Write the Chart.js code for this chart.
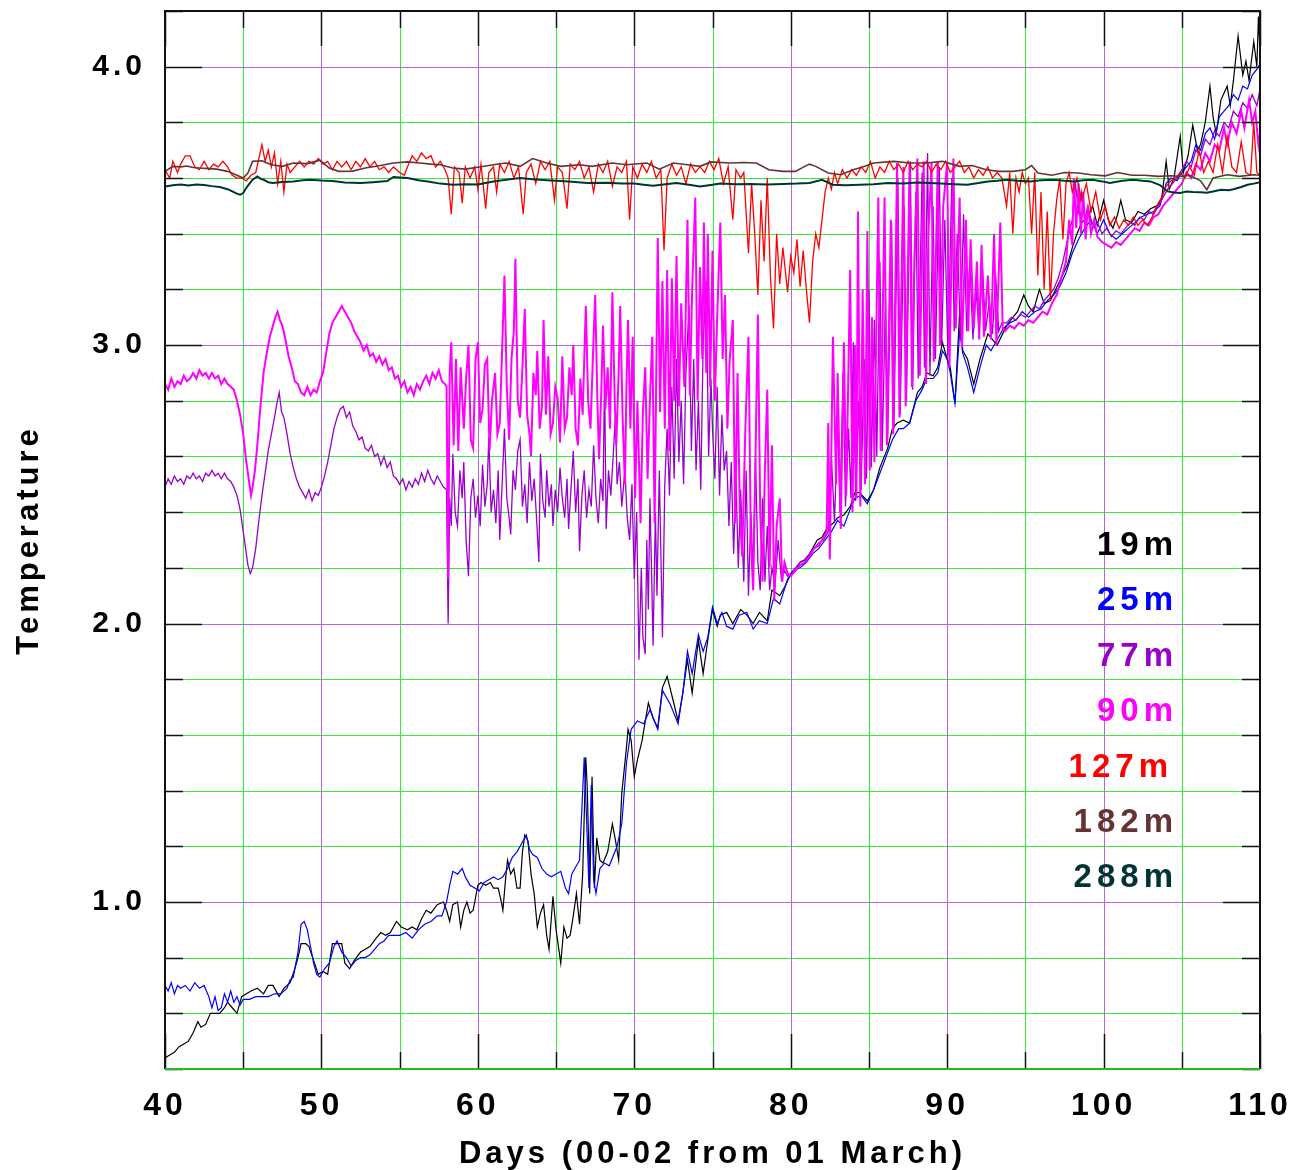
<!DOCTYPE html>
<html lang="en">
<head>
<meta charset="UTF-8">
<title>Temperature by depth</title>
<script src="https://cdn.jsdelivr.net/npm/chart.js"></script>
<style>
  html, body { margin: 0; padding: 0; background: #ffffff; }
  #wrap { width: 1292px; height: 1170px; }
</style>
</head>
<body>
<div id="wrap"><canvas id="tempChart" width="1292" height="1170"></canvas></div>
<script>
// sensor depths, in legend order
const depths = ['19m', '25m', '77m', '90m', '127m', '182m', '288m'];

// [day, temperature] for each sensor
const t19m = [
  [40.0,0.44],[40.3,0.45],[40.6,0.46],[40.9,0.48],[41.2,0.49],[41.5,0.50],[41.8,0.53],[42.1,0.57],[42.3,0.55],[42.6,0.56],
  [42.9,0.60],[43.2,0.60],[43.5,0.60],[43.8,0.62],[44.0,0.64],[44.3,0.62],[44.6,0.60],[44.9,0.66],[45.2,0.67],[45.5,0.68],
  [45.9,0.69],[46.3,0.67],[46.6,0.70],[46.9,0.70],[47.3,0.66],[47.6,0.69],[48.0,0.71],[48.3,0.76],[48.5,0.80],[48.7,0.85],
  [49.0,0.85],[49.2,0.84],[49.5,0.79],[49.8,0.74],[50.1,0.75],[50.4,0.74],[50.7,0.85],[51.0,0.85],[51.3,0.85],[51.5,0.78],
  [51.8,0.76],[52.1,0.79],[52.5,0.82],[52.8,0.83],[53.1,0.84],[53.5,0.87],[53.8,0.89],[54.1,0.88],[54.4,0.89],[54.8,0.93],
  [55.1,0.91],[55.5,0.90],[55.8,0.91],[56.1,0.90],[56.4,0.94],[56.7,0.97],[57.0,0.96],[57.4,0.99],[57.8,1.00],[58.0,0.97],
  [58.2,0.93],[58.4,0.99],[58.7,1.00],[58.9,0.91],[59.1,0.97],[59.3,1.00],[59.5,0.96],[59.7,0.97],[60.0,1.06],[60.2,1.07],
  [60.5,1.06],[60.8,1.07],[61.0,1.05],[61.3,1.05],[61.5,1.00],[61.6,0.97],[61.8,1.10],[61.9,1.15],[62.1,1.10],[62.3,1.12],
  [62.5,1.05],[62.7,1.05],[62.85,1.18],[63.0,1.24],[63.2,1.22],[63.4,1.10],[63.6,1.03],[63.8,0.91],[64.0,0.96],[64.2,0.99],
  [64.4,0.88],[64.55,0.83],[64.8,1.02],[65.0,0.90],[65.3,0.78],[65.5,0.91],[65.7,0.87],[65.9,0.88],[66.1,0.95],[66.3,1.03],
  [66.5,0.92],[66.7,1.10],[66.9,1.52],[67.0,1.40],[67.15,1.03],[67.3,1.45],[67.45,1.05],[67.6,1.23],[67.8,1.15],[68.0,1.14],
  [68.3,1.18],[68.6,1.28],[68.8,1.22],[69.0,1.15],[69.2,1.39],[69.5,1.555],[69.6,1.62],[69.8,1.58],[70.0,1.45],[70.2,1.51],
  [70.5,1.58],[70.9,1.715],[71.2,1.66],[71.5,1.625],[71.8,1.77],[72.1,1.81],[72.5,1.72],[72.8,1.65],[73.1,1.75],[73.4,1.87],
  [73.7,1.75],[74.1,1.94],[74.4,1.82],[74.7,1.94],[75.0,2.05],[75.3,1.99],[75.5,2.03],[75.9,2.04],[76.3,2.00],[76.8,2.05],
  [77.2,2.03],[77.6,2.00],[78.0,2.04],[78.5,2.01],[78.8,2.12],[79.3,2.10],[79.7,2.14],[80.0,2.18],[80.3,2.19],[80.6,2.22],
  [81.0,2.23],[81.4,2.27],[81.7,2.30],[82.0,2.31],[82.3,2.34],[82.7,2.36],[83.0,2.38],[83.4,2.39],[83.8,2.42],[84.1,2.47],
  [84.4,2.47],[84.9,2.44],[85.3,2.48],[85.7,2.56],[86.2,2.63],[86.5,2.70],[86.8,2.72],[87.2,2.73],[87.6,2.72],[88.1,2.83],
  [88.4,2.85],[88.7,2.90],[89.1,2.89],[89.4,2.92],[89.7,3.01],[90.0,2.95],[90.2,2.92],[90.5,2.79],[90.8,3.12],[91.0,2.98],
  [91.3,2.95],[91.7,2.86],[92.1,2.95],[92.6,3.04],[93.2,3.00],[93.8,3.07],[94.2,3.10],[94.5,3.12],[94.9,3.18],[95.2,3.14],
  [95.5,3.12],[95.9,3.20],[96.2,3.15],[96.6,3.16],[97.2,3.23],[97.7,3.29],[98.0,3.35],[98.3,3.40],[98.6,3.44],[99.0,3.46],
  [99.3,3.50],[99.6,3.43],[100.0,3.52],[100.3,3.45],[100.6,3.42],[100.9,3.47],[101.1,3.52],[101.4,3.45],[101.8,3.44],[102.2,3.48],
  [102.6,3.47],[103.0,3.49],[103.4,3.50],[103.7,3.52],[104.0,3.66],[104.2,3.56],[104.5,3.60],[104.9,3.75],[105.1,3.62],[105.4,3.68],
  [105.7,3.79],[106.0,3.70],[106.2,3.72],[106.5,3.80],[106.8,3.93],[107.0,3.82],[107.2,3.76],[107.5,3.88],[107.9,3.93],[108.1,3.86],
  [108.3,3.95],[108.6,4.11],[108.9,3.97],[109.1,4.02],[109.3,3.95],[109.6,4.09],[109.8,4.00],[109.9,4.18],[110.0,4.05]
];

const t25m = [
  [40.0,0.70],[40.2,0.68],[40.4,0.71],[40.6,0.67],[40.8,0.70],[41.0,0.69],[41.3,0.70],[41.6,0.68],[41.9,0.71],[42.2,0.69],
  [42.5,0.70],[42.8,0.66],[43.0,0.62],[43.2,0.66],[43.4,0.61],[43.6,0.62],[43.8,0.67],[44.0,0.64],[44.2,0.68],[44.4,0.64],
  [44.6,0.66],[44.8,0.63],[45.0,0.65],[45.4,0.65],[45.8,0.66],[46.2,0.66],[46.6,0.66],[47.0,0.67],[47.4,0.67],[47.8,0.69],
  [48.0,0.72],[48.2,0.73],[48.5,0.82],[48.7,0.92],[48.9,0.93],[49.1,0.90],[49.3,0.84],[49.5,0.78],[49.7,0.74],[49.9,0.73],
  [50.2,0.76],[50.5,0.78],[50.8,0.84],[51.0,0.86],[51.3,0.82],[51.6,0.80],[51.9,0.77],[52.2,0.79],[52.5,0.80],[52.8,0.80],
  [53.1,0.81],[53.4,0.83],[53.7,0.85],[54.0,0.86],[54.3,0.88],[54.6,0.88],[55.0,0.88],[55.4,0.89],[55.8,0.87],[56.2,0.90],
  [56.6,0.92],[57.0,0.93],[57.4,0.95],[57.7,0.95],[58.0,1.00],[58.2,1.06],[58.4,1.11],[58.7,1.10],[59.0,1.12],[59.2,1.09],
  [59.5,1.06],[59.8,1.05],[60.1,1.04],[60.4,1.07],[60.7,1.08],[61.0,1.09],[61.3,1.08],[61.6,1.09],[61.9,1.12],[62.2,1.16],
  [62.5,1.18],[62.8,1.21],[63.1,1.24],[63.3,1.19],[63.5,1.17],[63.8,1.16],[64.1,1.12],[64.4,1.10],[64.7,1.09],[65.0,1.10],
  [65.3,1.11],[65.6,1.05],[65.8,1.03],[66.0,1.10],[66.2,1.12],[66.5,1.15],[66.8,1.52],[66.95,1.30],[67.1,1.05],[67.25,1.42],
  [67.4,1.08],[67.55,1.03],[67.8,1.12],[68.1,1.14],[68.4,1.13],[68.9,1.20],[69.2,1.28],[69.5,1.50],[69.8,1.62],[70.2,1.65],
  [70.6,1.64],[71.0,1.69],[71.5,1.62],[71.8,1.76],[72.3,1.71],[72.8,1.64],[73.1,1.75],[73.4,1.90],[73.7,1.82],[74.1,1.96],
  [74.4,1.90],[74.7,1.95],[75.0,2.06],[75.3,2.00],[75.6,2.04],[75.9,1.99],[76.3,1.98],[76.7,2.03],[77.2,2.04],[77.6,1.98],
  [78.0,2.01],[78.5,2.00],[78.9,2.09],[79.3,2.07],[79.8,2.16],[80.2,2.19],[80.6,2.20],[81.0,2.22],[81.4,2.25],[81.8,2.27],
  [82.2,2.30],[82.6,2.33],[83.0,2.37],[83.4,2.35],[83.8,2.41],[84.1,2.45],[84.5,2.46],[84.9,2.43],[85.3,2.48],[85.7,2.54],
  [86.1,2.60],[86.5,2.66],[86.9,2.70],[87.2,2.70],[87.6,2.72],[88.0,2.80],[88.4,2.84],[88.7,2.88],[89.1,2.88],[89.4,2.90],
  [89.7,2.98],[90.0,2.95],[90.2,2.90],[90.5,2.79],[90.8,3.05],[91.0,2.97],[91.3,2.92],[91.7,2.83],[92.1,2.92],[92.5,3.00],
  [92.8,2.98],[93.2,3.02],[93.6,3.06],[94.0,3.08],[94.4,3.09],[94.8,3.12],[95.2,3.10],[95.6,3.12],[96.0,3.13],[96.4,3.16],
  [96.8,3.18],[97.2,3.21],[97.6,3.26],[98.0,3.33],[98.4,3.38],[98.8,3.42],[99.2,3.45],[99.6,3.40],[100.0,3.45],[100.4,3.40],
  [100.8,3.38],[101.2,3.40],[101.6,3.42],[102.0,3.44],[102.4,3.46],[102.8,3.47],[103.2,3.48],[103.6,3.50],[104.0,3.58],[104.3,3.60],
  [104.7,3.59],[105.0,3.62],[105.3,3.64],[105.6,3.66],[105.9,3.72],[106.2,3.70],[106.5,3.76],[106.8,3.78],[107.1,3.74],[107.4,3.82],
  [107.7,3.84],[108.0,3.86],[108.3,3.90],[108.6,3.88],[108.9,3.93],[109.2,3.92],[109.5,3.97],[109.8,3.99],[110.0,4.01]
];

const t77m = [
  [40.0,2.49],[40.2,2.52],[40.4,2.50],[40.6,2.53],[40.8,2.51],[41.0,2.52],[41.2,2.50],[41.4,2.53],[41.6,2.52],[41.8,2.54],
  [42.0,2.52],[42.2,2.53],[42.4,2.51],[42.6,2.54],[42.8,2.53],[43.0,2.55],[43.2,2.53],[43.4,2.54],[43.6,2.52],[43.8,2.54],
  [44.0,2.52],[44.2,2.51],[44.4,2.49],[44.6,2.46],[44.8,2.41],[45.0,2.33],[45.15,2.27],[45.3,2.21],[45.45,2.18],[45.6,2.20],
  [45.8,2.27],[46.0,2.37],[46.2,2.46],[46.4,2.54],[46.6,2.62],[46.8,2.68],[47.0,2.74],[47.15,2.79],[47.3,2.83],[47.45,2.76],
  [47.6,2.74],[47.8,2.68],[48.0,2.61],[48.2,2.56],[48.4,2.52],[48.6,2.49],[48.8,2.47],[49.0,2.45],[49.2,2.48],[49.4,2.44],
  [49.6,2.47],[49.8,2.46],[50.0,2.49],[50.2,2.53],[50.4,2.58],[50.6,2.64],[50.8,2.70],[51.0,2.74],[51.2,2.77],[51.4,2.78],
  [51.6,2.74],[51.8,2.76],[52.0,2.71],[52.2,2.69],[52.4,2.66],[52.6,2.67],[52.8,2.63],[53.0,2.62],[53.2,2.64],[53.4,2.60],
  [53.6,2.61],[53.8,2.57],[54.0,2.60],[54.2,2.56],[54.4,2.58],[54.6,2.53],[54.8,2.52],[55.0,2.50],[55.2,2.52],[55.4,2.48],
  [55.6,2.51],[55.8,2.49],[56.0,2.52],[56.2,2.50],[56.4,2.54],[56.6,2.51],[56.8,2.55],[57.0,2.52],[57.2,2.50],[57.4,2.53],
  [57.6,2.51],[57.8,2.49],[58.0,2.48],[58.1,2.00],[58.2,2.45],[58.3,2.35],[58.4,2.61],[58.55,2.40],[58.7,2.35],[58.85,2.55],
  [59.0,2.45],[59.1,2.58],[59.25,2.30],[59.4,2.17],[59.55,2.45],[59.7,2.52],[59.85,2.38],[60.0,2.46],[60.15,2.35],[60.3,2.57],
  [60.45,2.42],[60.6,2.50],[60.7,2.67],[60.85,2.40],[61.0,2.48],[61.15,2.36],[61.3,2.55],[61.4,2.30],[61.55,2.50],[61.7,2.70],
  [61.85,2.45],[62.0,2.38],[62.1,2.32],[62.25,2.55],[62.4,2.48],[62.55,2.62],[62.7,2.66],[62.85,2.42],[63.0,2.50],[63.15,2.36],
  [63.3,2.58],[63.45,2.44],[63.6,2.52],[63.75,2.38],[63.9,2.22],[64.0,2.61],[64.15,2.44],[64.3,2.38],[64.4,2.55],[64.55,2.42],
  [64.7,2.50],[64.8,2.35],[64.95,2.48],[65.1,2.40],[65.25,2.56],[65.4,2.45],[65.55,2.38],[65.7,2.52],[65.8,2.34],[65.95,2.48],
  [66.1,2.62],[66.25,2.40],[66.4,2.52],[66.5,2.26],[66.65,2.46],[66.8,2.55],[66.95,2.38],[67.1,2.48],[67.25,2.42],[67.4,2.64],
  [67.55,2.45],[67.7,2.36],[67.85,2.52],[68.0,2.44],[68.1,2.90],[68.2,2.34],[68.35,2.55],[68.5,2.46],[68.65,2.60],[68.8,2.75],
  [68.9,2.50],[69.05,2.58],[69.2,2.42],[69.4,2.55],[69.55,2.38],[69.7,2.30],[69.85,2.50],[70.0,2.16],[70.15,2.40],[70.3,1.87],
  [70.45,2.20],[70.55,1.95],[70.7,1.89],[70.8,2.30],[70.9,2.05],[71.0,2.45],[71.1,2.20],[71.2,1.92],[71.35,2.40],[71.45,2.10],
  [71.6,2.55],[71.8,1.95],[71.95,2.50],[72.1,2.70],[72.25,2.46],[72.4,2.85],[72.55,2.52],[72.7,2.95],[72.85,2.58],[73.0,2.80],
  [73.15,2.50],[73.3,2.90],[73.5,3.14],[73.65,2.62],[73.8,2.95],[73.95,2.55],[74.1,2.80],[74.25,2.48],[74.4,3.00],[74.6,3.23],
  [74.75,2.60],[74.9,2.88],[75.0,2.70],[75.15,2.52],[75.3,2.85],[75.45,2.46],[75.6,2.75],[75.75,2.55],[75.9,2.62],[76.05,2.35],
  [76.2,2.58],[76.35,2.25],[76.5,2.52],[76.65,2.20],[76.8,2.48],[77.0,2.15],[77.15,2.55],[77.3,2.10],[77.45,2.40],[77.6,2.18],
  [77.75,2.60],[77.9,2.22],[78.05,2.12],[78.2,2.45],[78.35,2.15],[78.5,2.35],[78.65,2.12],[78.8,2.20],[79.0,2.14],[79.2,2.30],
  [79.4,2.16],[79.6,2.19],[79.8,2.17],[80.0,2.18],[80.3,2.20],[80.6,2.22],[80.9,2.23],[81.2,2.25],[81.5,2.27],[81.8,2.29],
  [82.1,2.30],[82.4,2.33],[82.6,2.60],[82.8,2.36],[83.0,2.75],[83.15,2.40],[83.35,2.90],[83.5,2.42],[83.7,2.70],[83.85,2.45],
  [84.0,3.01],[84.15,2.44],[84.35,2.80],[84.5,2.48],[84.7,2.95],[84.85,2.52],[85.0,3.20],[85.15,2.56],[85.35,3.09],[85.5,2.60],
  [85.7,3.30],[85.85,2.62],[86.05,3.15],[86.2,2.66],[86.45,3.44],[86.6,2.70],[86.85,3.60],[87.0,2.75],[87.25,3.50],[87.4,2.80],
  [87.65,3.66],[87.8,2.84],[88.0,3.55],[88.15,2.88],[88.4,3.62],[88.55,2.92],[88.75,3.69],[88.9,2.89],[89.1,3.50],[89.25,2.95],
  [89.5,3.64],[89.65,3.00],[89.85,3.45],[90.05,2.96],[90.3,3.60],[90.45,3.05],[90.65,3.40],[90.85,3.02],[91.05,3.47],[91.25,3.05],
  [91.45,3.30],[91.65,3.02],[91.85,3.20],[92.05,3.04],[92.25,3.30],[92.45,3.05],[92.7,3.16],[92.9,3.04],[93.1,3.25],[93.3,3.05],
  [93.5,3.08],[93.8,3.08],[94.1,3.10],[94.4,3.09],[94.7,3.11],[95.0,3.10],[95.3,3.12],[95.6,3.14],[95.9,3.13],[96.2,3.16],
  [96.5,3.18],[96.8,3.20],[97.1,3.24],[97.4,3.30],[97.7,3.38],[98.0,3.45],[98.2,3.58],[98.4,3.48],[98.6,3.55],[98.8,3.45],
  [99.0,3.50],[99.3,3.42],[99.6,3.44],[99.9,3.40],[100.2,3.42],[100.5,3.39],[100.8,3.41],[101.1,3.40],[101.4,3.42],[101.7,3.44],
  [102.0,3.43],[102.3,3.46],[102.6,3.45],[102.9,3.48],[103.2,3.47],[103.5,3.50],[103.8,3.53],[104.1,3.56],[104.4,3.58],[104.7,3.60],
  [105.0,3.63],[105.3,3.66],[105.6,3.64],[105.9,3.70],[106.2,3.68],[106.5,3.74],[106.8,3.72],[107.1,3.77],[107.4,3.75],[107.7,3.80],
  [108.0,3.78],[108.3,3.84],[108.6,3.82],[108.9,3.87],[109.2,3.85],[109.5,3.90],[109.8,3.86],[110.0,3.92]
];

const t90m = [
  [40.0,2.86],[40.2,2.84],[40.4,2.88],[40.6,2.85],[40.8,2.87],[41.0,2.86],[41.2,2.89],[41.4,2.87],[41.6,2.88],[41.8,2.90],
  [42.0,2.88],[42.2,2.91],[42.4,2.89],[42.6,2.90],[42.8,2.88],[43.0,2.90],[43.2,2.88],[43.4,2.89],[43.6,2.86],[43.8,2.88],
  [44.0,2.86],[44.2,2.85],[44.4,2.84],[44.6,2.80],[44.8,2.75],[45.0,2.68],[45.2,2.58],[45.35,2.52],[45.5,2.46],[45.6,2.49],
  [45.75,2.55],[45.9,2.64],[46.1,2.78],[46.3,2.90],[46.5,2.97],[46.7,3.03],[46.9,3.07],[47.05,3.10],[47.2,3.12],[47.35,3.09],
  [47.5,3.07],[47.7,3.02],[47.9,2.96],[48.1,2.92],[48.3,2.87],[48.5,2.86],[48.7,2.83],[48.9,2.82],[49.1,2.85],[49.3,2.82],
  [49.5,2.84],[49.7,2.83],[49.9,2.87],[50.1,2.90],[50.3,2.97],[50.5,3.04],[50.7,3.08],[50.9,3.10],[51.1,3.12],[51.3,3.14],
  [51.5,3.12],[51.7,3.10],[51.9,3.08],[52.1,3.05],[52.3,3.03],[52.5,3.01],[52.7,2.98],[52.9,3.00],[53.1,2.96],[53.3,2.97],
  [53.5,2.94],[53.7,2.96],[53.9,2.93],[54.1,2.95],[54.3,2.91],[54.5,2.92],[54.7,2.88],[54.9,2.89],[55.1,2.85],[55.3,2.87],
  [55.5,2.83],[55.7,2.85],[55.9,2.82],[56.1,2.86],[56.3,2.84],[56.5,2.87],[56.7,2.89],[56.9,2.86],[57.1,2.90],[57.3,2.88],
  [57.5,2.91],[57.7,2.87],[57.9,2.86],[58.0,2.85],[58.1,2.16],[58.2,2.90],[58.3,3.01],[58.45,2.64],[58.6,2.95],[58.75,2.62],
  [58.9,2.92],[59.1,2.70],[59.25,2.88],[59.4,3.00],[59.55,2.66],[59.7,2.63],[59.85,2.95],[60.0,3.01],[60.15,2.72],[60.3,2.77],
  [60.45,2.93],[60.6,2.95],[60.75,2.62],[60.9,2.80],[61.1,2.90],[61.25,2.68],[61.4,2.72],[61.55,2.98],[61.7,3.25],[61.85,2.85],
  [62.0,2.66],[62.15,2.95],[62.3,3.05],[62.4,3.31],[62.55,2.80],[62.7,2.74],[62.85,2.92],[63.0,3.13],[63.15,2.75],[63.3,2.68],
  [63.4,2.60],[63.55,2.90],[63.7,2.82],[63.8,2.98],[63.95,2.70],[64.1,2.78],[64.2,3.09],[64.35,2.75],[64.5,2.96],[64.65,2.68],
  [64.8,2.72],[64.95,2.85],[65.1,2.81],[65.25,2.65],[65.4,2.96],[65.55,2.70],[65.7,2.74],[65.85,2.92],[66.0,2.82],[66.1,3.00],
  [66.25,2.70],[66.4,2.64],[66.55,2.88],[66.7,2.75],[66.9,3.14],[67.05,2.80],[67.2,2.70],[67.35,2.95],[67.5,3.18],[67.65,2.78],
  [67.75,2.59],[67.9,2.85],[68.0,3.07],[68.15,2.77],[68.3,2.92],[68.45,2.70],[68.6,3.19],[68.75,2.80],[68.85,2.64],[69.0,2.90],
  [69.1,3.14],[69.25,2.75],[69.4,2.50],[69.5,2.85],[69.6,3.09],[69.75,2.70],[69.9,3.03],[70.05,2.45],[70.2,2.80],[70.4,2.36],
  [70.55,2.76],[70.7,2.92],[70.85,2.52],[71.0,2.80],[71.15,3.03],[71.3,2.36],[71.5,3.385],[71.65,2.76],[71.8,3.23],[71.95,2.70],
  [72.1,3.27],[72.25,2.62],[72.4,3.24],[72.55,2.80],[72.7,3.32],[72.85,2.78],[73.0,3.15],[73.2,2.85],[73.4,3.45],[73.55,2.82],
  [73.7,3.20],[73.9,3.53],[74.05,2.80],[74.2,3.28],[74.35,2.95],[74.45,3.44],[74.6,2.90],[74.7,3.40],[74.85,2.85],[75.0,3.34],
  [75.15,2.80],[75.3,3.10],[75.5,3.44],[75.65,2.95],[75.8,3.18],[75.95,2.70],[76.1,2.95],[76.3,3.09],[76.45,2.36],[76.6,2.90],
  [76.75,2.40],[76.9,2.24],[77.1,2.70],[77.3,3.03],[77.45,2.30],[77.6,2.12],[77.75,2.60],[77.9,3.11],[78.05,2.40],[78.2,2.15],
  [78.35,2.55],[78.5,2.84],[78.65,2.20],[78.8,2.64],[78.95,2.08],[79.1,2.35],[79.3,2.45],[79.45,2.15],[79.6,2.22],[79.8,2.18],
  [80.0,2.17],[80.3,2.19],[80.6,2.21],[80.9,2.22],[81.2,2.24],[81.5,2.27],[81.8,2.28],[82.1,2.31],[82.3,2.33],[82.4,2.72],
  [82.5,2.23],[82.7,3.03],[82.9,2.50],[83.0,2.90],[83.2,2.34],[83.4,3.01],[83.55,2.46],[83.8,3.27],[83.95,2.40],[84.1,3.00],
  [84.2,2.45],[84.3,3.48],[84.45,2.42],[84.6,3.20],[84.75,2.50],[84.9,3.41],[85.05,2.55],[85.2,3.10],[85.35,2.58],[85.6,3.53],
  [85.75,2.62],[86.0,3.53],[86.15,2.64],[86.4,3.45],[86.55,2.68],[86.8,3.655],[86.95,2.74],[87.2,3.64],[87.35,2.78],[87.6,3.655],
  [87.75,2.85],[87.9,3.30],[88.1,3.67],[88.25,2.89],[88.5,3.66],[88.65,2.86],[88.8,3.40],[89.0,3.655],[89.15,2.94],[89.4,3.66],
  [89.55,3.00],[89.75,3.50],[90.0,3.655],[90.15,2.92],[90.4,3.67],[90.55,3.06],[90.8,3.53],[90.95,2.99],[91.2,3.45],[91.35,3.05],
  [91.5,3.38],[91.7,3.06],[91.9,3.30],[92.05,3.02],[92.2,3.36],[92.35,3.03],[92.6,3.25],[92.8,3.02],[93.0,3.40],[93.15,3.00],
  [93.4,3.44],[93.55,3.06],[93.7,3.05],[94.0,3.07],[94.3,3.06],[94.6,3.08],[94.9,3.07],[95.2,3.09],[95.5,3.08],[95.8,3.10],
  [96.1,3.12],[96.4,3.11],[96.7,3.15],[97.0,3.18],[97.3,3.24],[97.6,3.30],[97.8,3.45],[98.0,3.36],[98.1,3.60],[98.25,3.42],
  [98.4,3.58],[98.55,3.40],[98.7,3.55],[98.85,3.38],[99.0,3.50],[99.2,3.40],[99.4,3.45],[99.6,3.39],[99.9,3.37],[100.2,3.36],
  [100.5,3.35],[100.8,3.37],[101.1,3.36],[101.4,3.38],[101.7,3.40],[102.0,3.42],[102.3,3.41],[102.6,3.44],[102.9,3.43],[103.2,3.46],
  [103.5,3.47],[103.8,3.50],[104.1,3.52],[104.4,3.54],[104.7,3.56],[105.0,3.58],[105.3,3.62],[105.6,3.60],[105.9,3.65],[106.2,3.63],
  [106.5,3.69],[106.8,3.66],[107.1,3.72],[107.4,3.70],[107.7,3.78],[107.9,3.72],[108.2,3.80],[108.5,3.76],[108.8,3.84],[109.0,3.78],
  [109.3,3.88],[109.5,3.80],[109.7,3.84],[109.9,3.72],[110.0,3.76]
];

const t127m = [
  [40.0,3.63],[40.3,3.60],[40.5,3.66],[40.8,3.62],[41.0,3.65],[41.3,3.68],[41.6,3.68],[41.9,3.64],[42.2,3.63],[42.5,3.66],
  [42.8,3.63],[43.1,3.65],[43.4,3.64],[43.7,3.66],[44.0,3.64],[44.3,3.61],[44.6,3.60],[44.9,3.60],[45.2,3.59],[45.5,3.61],
  [45.8,3.62],[46.0,3.67],[46.2,3.72],[46.4,3.66],[46.6,3.70],[46.8,3.64],[47.0,3.69],[47.2,3.58],[47.4,3.66],[47.6,3.55],
  [47.8,3.65],[48.0,3.62],[48.3,3.64],[48.6,3.66],[48.9,3.64],[49.2,3.66],[49.5,3.65],[49.8,3.67],[50.1,3.65],[50.4,3.66],
  [50.7,3.63],[51.0,3.66],[51.3,3.64],[51.6,3.66],[51.9,3.63],[52.2,3.66],[52.5,3.64],[52.8,3.67],[53.1,3.64],[53.4,3.66],
  [53.7,3.63],[54.0,3.64],[54.3,3.62],[54.6,3.64],[55.0,3.62],[55.3,3.61],[55.5,3.64],[55.8,3.68],[56.1,3.66],[56.4,3.69],
  [56.7,3.67],[57.0,3.68],[57.3,3.64],[57.6,3.66],[57.9,3.63],[58.1,3.60],[58.3,3.47],[58.5,3.64],[58.8,3.62],[59.0,3.51],
  [59.2,3.64],[59.5,3.60],[59.8,3.64],[60.0,3.56],[60.2,3.65],[60.5,3.49],[60.7,3.62],[61.0,3.64],[61.2,3.55],[61.4,3.65],
  [61.7,3.62],[62.0,3.66],[62.3,3.60],[62.6,3.64],[62.9,3.47],[63.1,3.62],[63.4,3.65],[63.7,3.58],[64.0,3.66],[64.3,3.63],
  [64.6,3.66],[64.9,3.52],[65.1,3.64],[65.4,3.62],[65.7,3.49],[65.9,3.65],[66.2,3.63],[66.5,3.66],[66.8,3.60],[67.1,3.64],
  [67.4,3.55],[67.7,3.65],[68.0,3.62],[68.3,3.66],[68.6,3.57],[68.9,3.64],[69.2,3.62],[69.5,3.66],[69.7,3.45],[69.9,3.64],
  [70.2,3.60],[70.5,3.65],[70.8,3.62],[71.1,3.66],[71.4,3.60],[71.7,3.63],[71.9,3.34],[72.1,3.60],[72.4,3.65],[72.7,3.61],
  [73.0,3.64],[73.3,3.58],[73.6,3.65],[73.9,3.62],[74.2,3.64],[74.5,3.62],[74.8,3.66],[75.1,3.63],[75.4,3.67],[75.7,3.58],
  [76.0,3.64],[76.3,3.45],[76.5,3.63],[76.8,3.60],[77.0,3.62],[77.3,3.33],[77.5,3.58],[77.7,3.40],[77.9,3.18],[78.1,3.52],
  [78.3,3.30],[78.5,3.60],[78.7,3.25],[78.9,3.06],[79.1,3.40],[79.3,3.22],[79.5,3.35],[79.8,3.19],[80.0,3.32],[80.2,3.26],
  [80.4,3.38],[80.6,3.21],[80.8,3.34],[81.0,3.20],[81.2,3.08],[81.4,3.30],[81.6,3.40],[81.8,3.35],[82.0,3.45],[82.2,3.55],
  [82.4,3.60],[82.6,3.56],[82.8,3.62],[83.0,3.58],[83.3,3.63],[83.6,3.60],[83.9,3.63],[84.2,3.61],[84.5,3.64],[84.8,3.62],
  [85.1,3.66],[85.4,3.60],[85.7,3.64],[86.0,3.62],[86.3,3.66],[86.6,3.63],[86.9,3.65],[87.2,3.62],[87.5,3.66],[87.8,3.63],
  [88.1,3.65],[88.4,3.64],[88.7,3.66],[89.0,3.62],[89.3,3.65],[89.6,3.63],[89.9,3.66],[90.2,3.62],[90.5,3.64],[90.8,3.66],
  [91.1,3.62],[91.4,3.64],[91.7,3.60],[92.0,3.63],[92.3,3.61],[92.6,3.64],[92.9,3.60],[93.2,3.62],[93.5,3.60],[93.8,3.50],
  [94.0,3.62],[94.2,3.40],[94.4,3.60],[94.6,3.55],[94.8,3.62],[95.0,3.58],[95.2,3.60],[95.4,3.40],[95.6,3.62],[95.8,3.25],
  [96.0,3.55],[96.2,3.20],[96.4,3.48],[96.6,3.16],[96.8,3.40],[97.0,3.52],[97.2,3.60],[97.4,3.38],[97.6,3.58],[97.8,3.62],
  [98.0,3.55],[98.3,3.60],[98.6,3.52],[98.9,3.58],[99.2,3.48],[99.5,3.55],[99.8,3.45],[100.1,3.50],[100.4,3.43],[100.7,3.46],
  [101.0,3.42],[101.3,3.45],[101.6,3.43],[101.9,3.46],[102.2,3.43],[102.5,3.45],[102.8,3.43],[103.1,3.46],[103.4,3.50],[103.7,3.53],
  [104.0,3.57],[104.3,3.59],[104.6,3.60],[104.9,3.62],[105.2,3.60],[105.5,3.64],[105.8,3.61],[106.1,3.70],[106.4,3.62],[106.7,3.66],
  [107.0,3.62],[107.3,3.72],[107.6,3.62],[107.9,3.75],[108.2,3.64],[108.5,3.62],[108.8,3.73],[109.1,3.62],[109.4,3.61],[109.6,3.80],
  [109.8,3.62],[110.0,3.61]
];

const t182m = [
  [40.0,3.624],[40.5,3.642],[41.0,3.640],[41.4,3.643],[41.8,3.638],[42.2,3.636],[42.8,3.634],[43.3,3.632],[44.0,3.624],[44.6,3.610],
  [45.0,3.600],[45.3,3.618],[45.6,3.660],[46.2,3.662],[46.8,3.648],[47.5,3.642],[48.2,3.654],[49.1,3.652],[49.9,3.664],[50.5,3.636],
  [51.1,3.624],[52.0,3.625],[52.8,3.636],[53.7,3.644],[54.6,3.654],[55.5,3.658],[56.3,3.654],[57.0,3.650],[57.6,3.648],[58.4,3.636],
  [59.2,3.632],[60.1,3.640],[61.0,3.648],[61.8,3.654],[62.7,3.642],[63.5,3.670],[64.4,3.654],[65.3,3.642],[66.5,3.648],[67.3,3.642],
  [68.6,3.654],[69.5,3.648],[70.8,3.654],[71.6,3.632],[72.5,3.654],[73.4,3.648],[74.2,3.642],[74.9,3.658],[76.1,3.654],[77.0,3.656],
  [77.8,3.654],[78.6,3.630],[79.5,3.624],[80.3,3.624],[80.9,3.642],[81.2,3.650],[81.6,3.642],[82.4,3.618],[83.2,3.612],[84.0,3.630],
  [84.6,3.640],[85.3,3.654],[86.6,3.660],[87.6,3.654],[88.7,3.654],[89.7,3.660],[90.8,3.642],[91.6,3.645],[92.5,3.630],[93.3,3.624],
  [94.2,3.624],[95.0,3.630],[95.4,3.645],[95.8,3.618],[96.7,3.610],[97.5,3.620],[98.4,3.618],[99.2,3.612],[100.1,3.608],[100.9,3.620],
  [101.8,3.610],[102.6,3.610],[103.5,3.606],[104.3,3.608],[104.9,3.606],[105.5,3.610],[106.2,3.590],[106.6,3.558],[107.0,3.600],[107.9,3.612],
  [108.7,3.606],[109.6,3.612],[110.0,3.610]
];

const t288m = [
  [40.0,3.570],[40.5,3.574],[41.0,3.577],[41.5,3.573],[42.0,3.577],[42.5,3.575],[43.0,3.571],[43.5,3.568],[44.0,3.560],[44.3,3.552],
  [44.6,3.544],[44.8,3.540],[45.0,3.546],[45.2,3.565],[45.4,3.580],[45.6,3.594],[45.9,3.606],[46.1,3.598],[46.3,3.594],[46.6,3.585],
  [46.9,3.582],[47.5,3.586],[48.2,3.588],[48.8,3.592],[49.3,3.594],[50.0,3.591],[50.7,3.589],[51.5,3.584],[52.5,3.582],[53.3,3.585],
  [54.2,3.589],[54.6,3.604],[55.0,3.602],[55.5,3.600],[56.2,3.592],[56.8,3.588],[57.6,3.580],[58.4,3.576],[59.2,3.578],[60.0,3.577],
  [61.0,3.588],[61.8,3.594],[62.7,3.600],[63.5,3.596],[64.4,3.592],[65.3,3.589],[66.2,3.586],[67.0,3.582],[68.3,3.583],[69.2,3.580],
  [70.0,3.580],[70.6,3.576],[71.2,3.572],[72.0,3.578],[72.7,3.582],[73.5,3.576],[74.2,3.570],[75.0,3.576],[75.5,3.580],[76.5,3.578],
  [77.4,3.579],[78.5,3.577],[79.5,3.579],[80.4,3.580],[81.2,3.582],[82.0,3.594],[82.7,3.576],[83.5,3.574],[84.4,3.576],[85.3,3.578],
  [86.2,3.582],[87.2,3.580],[88.1,3.584],[88.9,3.582],[89.6,3.580],[90.5,3.578],[91.3,3.576],[92.0,3.582],[92.6,3.588],[93.2,3.590],
  [93.8,3.594],[94.5,3.590],[95.3,3.588],[96.0,3.592],[96.8,3.594],[97.5,3.590],[98.1,3.588],[98.7,3.592],[99.3,3.594],[99.9,3.588],
  [100.4,3.582],[101.2,3.590],[101.9,3.594],[102.5,3.590],[103.0,3.588],[103.6,3.575],[104.1,3.552],[104.5,3.548],[104.9,3.546],[105.3,3.552],
  [105.7,3.550],[106.2,3.549],[106.6,3.547],[107.0,3.552],[107.5,3.558],[108.0,3.556],[108.3,3.560],[108.8,3.568],[109.2,3.576],[109.6,3.580],
  [110.0,3.585]
];

const series = [t19m, t25m, t77m, t90m, t127m, t182m, t288m];
const lineColors = ['#000000', '#0000ff', '#9900cc', '#ff00ff', '#ff0000', '#663333', '#003333'];
const lineWidths = [1.2, 1.2, 1.3, 2.0, 1.3, 1.6, 2.0];

const FONT = '"Liberation Sans", Arial, Helvetica, sans-serif';
const GRID_GREEN = '#33ee33';
const GRID_PURPLE = '#b066e0';

function isWhole(v) {
  return Math.abs(v - Math.round(v)) < 1e-6;
}
function isDecade(v) {
  return Math.abs(v / 10 - Math.round(v / 10)) < 1e-6;
}

// green grid every 5 days / 0.2 degrees, purple every 10 days / 1 degree
const gridLines = {
  id: 'gridLines',
  beforeDatasetsDraw(chart) {
    const { ctx, chartArea: a, scales: { x, y } } = chart;
    ctx.save();
    ctx.lineWidth = 1;
    const draw = (color, pick) => {
      ctx.strokeStyle = color;
      ctx.beginPath();
      x.ticks.forEach(t => {
        if (pick(isDecade(t.value))) {
          const px = Math.round(x.getPixelForValue(t.value)) + 0.5;
          ctx.moveTo(px, a.top); ctx.lineTo(px, a.bottom);
        }
      });
      y.ticks.forEach(t => {
        if (pick(isWhole(t.value))) {
          const py = Math.round(y.getPixelForValue(t.value)) + 0.5;
          ctx.moveTo(a.left, py); ctx.lineTo(a.right, py);
        }
      });
      ctx.stroke();
    };
    draw(GRID_GREEN, major => !major);
    draw(GRID_PURPLE, major => major);
    ctx.restore();
  }
};

// frame, inward tick marks and the depth key drawn on top of the plot
const frameAndKey = {
  id: 'frameAndKey',
  beforeDraw(chart) {
    chart.ctx.letterSpacing = '4px';
  },
  afterDraw(chart) {
    const { ctx, chartArea: a, scales: { x, y } } = chart;
    ctx.save();
    ctx.letterSpacing = '0px';
    ctx.strokeStyle = '#111111';
    ctx.lineWidth = 1.5;
    ctx.beginPath();
    y.ticks.forEach(t => {
      const py = Math.round(y.getPixelForValue(t.value)) + 0.5;
      const len = isWhole(t.value) ? 37 : 18;
      ctx.moveTo(a.left, py); ctx.lineTo(a.left + len, py);
      ctx.moveTo(a.right, py); ctx.lineTo(a.right - len, py);
    });
    x.ticks.forEach(t => {
      const px = Math.round(x.getPixelForValue(t.value)) + 0.5;
      const len = isDecade(t.value) ? 35 : 17;
      ctx.moveTo(px, a.bottom); ctx.lineTo(px, a.bottom - len);
      ctx.moveTo(px, a.top); ctx.lineTo(px, a.top + len);
    });
    ctx.stroke();

    ctx.lineWidth = 2;
    ctx.beginPath();
    ctx.moveTo(a.left, a.bottom);
    ctx.lineTo(a.left, a.top);
    ctx.lineTo(a.right, a.top);
    ctx.lineTo(a.right, a.bottom);
    ctx.stroke();
    ctx.strokeStyle = '#22bb22';
    ctx.beginPath();
    ctx.moveTo(a.left, a.bottom);
    ctx.lineTo(a.right, a.bottom);
    ctx.stroke();

    // depth key
    ctx.font = 'bold 33px ' + FONT;
    ctx.letterSpacing = '5px';
    ctx.textAlign = 'right';
    ctx.textBaseline = 'middle';
    chart.data.datasets.forEach((ds, i) => {
      const right = ds.label === '127m' ? 1173 : 1178;
      ctx.fillStyle = ds.borderColor;
      ctx.fillText(ds.label, right, 546 + i * 55.4);
    });
    ctx.restore();
  }
};

new Chart(document.getElementById('tempChart'), {
  type: 'line',
  data: {
    datasets: series.map((s, i) => ({
      label: depths[i],
      data: s,
      borderColor: lineColors[i],
      borderWidth: lineWidths[i],
      pointRadius: 0,
      tension: 0,
      fill: false,
      order: series.length - 1 - i
    }))
  },
  options: {
    responsive: false,
    devicePixelRatio: 1,
    animation: false,
    events: [],
    layout: { padding: { top: 11, right: 32, bottom: 0, left: 0 } },
    plugins: { legend: { display: false }, tooltip: { enabled: false } },
    scales: {
      x: {
        type: 'linear',
        min: 40,
        max: 110,
        afterFit(scale) {
          scale.height = 101;
          scale.paddingLeft = 0;
          scale.paddingRight = 0;
        },
        border: { display: false },
        grid: { display: false, drawTicks: false },
        ticks: {
          stepSize: 5,
          autoSkip: false,
          maxRotation: 0,
          padding: 18,
          color: '#000000',
          font: { family: FONT, size: 32, weight: 'bold' },
          callback: v => (isDecade(v) ? String(Math.round(v)) : '')
        },
        title: {
          display: true,
          text: 'Days (00-02 from 01 March)',
          color: '#000000',
          font: { family: FONT, size: 31, weight: 'bold', lineHeight: 1 },
          padding: { top: 0, bottom: 0 }
        }
      },
      y: {
        min: 0.4,
        max: 4.2,
        afterFit(scale) {
          scale.width = 165;
          scale.paddingTop = 0;
          scale.paddingBottom = 0;
        },
        border: { display: false },
        grid: { display: false, drawTicks: false },
        ticks: {
          stepSize: 0.2,
          autoSkip: false,
          padding: 19,
          color: '#000000',
          font: { family: FONT, size: 30, weight: 'bold' },
          callback: v => (isWhole(v) ? v.toFixed(1) : '')
        },
        title: {
          display: true,
          text: 'Temperature',
          color: '#000000',
          font: { family: FONT, size: 31, weight: 'bold', lineHeight: 1.2 },
          padding: { top: 11, bottom: 0 }
        }
      }
    }
  },
  plugins: [gridLines, frameAndKey]
});
</script>
</body>
</html>
